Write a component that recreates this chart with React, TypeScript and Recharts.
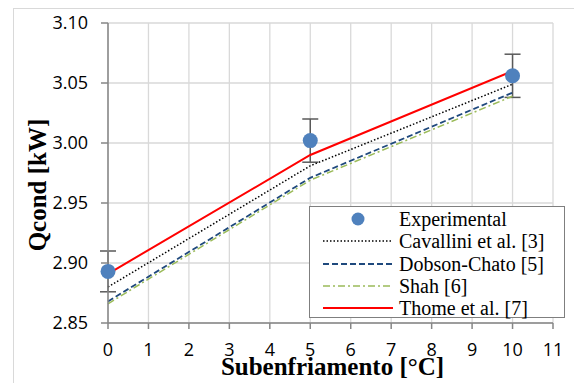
import React from 'react';
import { ComposedChart, Line, Scatter, ErrorBar, XAxis, YAxis, CartesianGrid, Legend } from 'recharts';

// Subcooling [°C]
const subcooling = [0, 5, 10];
// measured condenser capacity [kW] and its uncertainty
const experimental = [2.893, 3.002, 3.056];
const experimentalError = [0.017, 0.018, 0.018];
// correlation predictions [kW]
const cavallini = [2.880, 2.981, 3.049];
const dobsonChato = [2.868, 2.971, 3.042];
const shah = [2.866, 2.969, 3.039];
const thome = [2.891, 2.990, 3.060];

const xTicks = [0, 1, 2, 3, 4, 5, 6, 7, 8, 9, 10, 11];
const yTicks = [2.85, 2.9, 2.95, 3.0, 3.05, 3.1];

const data = subcooling.map((x, i) => ({
  x,
  exp: experimental[i],
  err: experimentalError[i],
  cavallini: cavallini[i],
  dobson: dobsonChato[i],
  shah: shah[i],
  thome: thome[i],
}));

const series = [
  { key: 'cavallini', name: 'Cavallini et al. [3]', color: '#000000', dash: '1.5 2', width: 1.5 },
  { key: 'dobson', name: 'Dobson-Chato [5]', color: '#1f497d', dash: '6 3', width: 1.8 },
  { key: 'shah', name: 'Shah [6]', color: '#9bbb59', dash: '7 3 2 3', width: 1.5 },
  { key: 'thome', name: 'Thome et al. [7]', color: '#ff0000', dash: undefined, width: 2 },
];

const sans = 'Open Sans';
const serif = 'Liberation Serif';

const XTick = (p: any) => (
  <text x={p.x} y={p.y} dy="0.71em" textAnchor="middle" fontFamily={sans} fontSize={18} fill="#000">
    {p.payload.value}
  </text>
);

const YTick = (p: any) => (
  <text x={p.x} y={p.y} dy="0.36em" textAnchor="end" fontFamily={sans} fontSize={18} fill="#000">
    {Number(p.payload.value).toFixed(2)}
  </text>
);

function LegendBox() {
  const text = { fontFamily: serif, fontSize: 20, color: '#000', lineHeight: '22px' };
  return (
    <div style={{
      background: '#fff',
      border: '1.5px solid #7f7f7f',
      width: 256,
      height: 112,
      boxSizing: 'border-box',
      paddingTop: 1,
    }}>
      <div style={{ display: 'flex', alignItems: 'center', height: 22.3 }}>
        <svg width={89} height={20}>
          <circle cx={48} cy={10} r={6.5} fill="#4f81bd" />
        </svg>
        <span style={text}>Experimental</span>
      </div>
      {series.map(s => (
        <div key={s.key} style={{ display: 'flex', alignItems: 'center', height: 22.3 }}>
          <svg width={89} height={20}>
            <line x1={13} y1={10} x2={83} y2={10} stroke={s.color} strokeWidth={s.width} strokeDasharray={s.dash} />
          </svg>
          <span style={text}>{s.name}</span>
        </div>
      ))}
    </div>
  );
}

export default function App() {
  return (
    <div style={{ position: 'absolute', left: 0, top: 0, width: 574, height: 383, background: '#fff', overflow: 'hidden' }}>
      {/* outer chart frame */}
      <div style={{
        position: 'absolute', left: 13, top: 8, width: 620, height: 420,
        borderLeft: '1.5px solid #d9d9d9', borderTop: '1.5px solid #d9d9d9',
      }} />
      <ComposedChart
        width={574}
        height={383}
        data={data}
        margin={{ top: 23, right: 21, left: 0, bottom: 0 }}
        style={{ position: 'absolute', left: 0, top: 0 }}
      >
        <CartesianGrid stroke="#d9d9d9" strokeWidth={1.3} />
        <XAxis
          dataKey="x"
          type="number"
          domain={[0, 11]}
          ticks={xTicks}
          interval={0}
          height={60}
          stroke="#868686"
          strokeWidth={1.5}
          tickSize={6}
          tickMargin={14}
          tick={XTick}
          label={{
            content: (props: any) => {
              const vb = props.viewBox;
              return (
                <text x={vb.x + vb.width / 2 + 2} y={375} textAnchor="middle"
                  fontFamily={serif} fontWeight="bold" fontSize={25} fill="#000">
                  Subenfriamento [°C]
                </text>
              );
            },
          }}
        />
        <YAxis
          type="number"
          domain={[2.85, 3.1]}
          ticks={yTicks}
          interval={0}
          width={108}
          stroke="#868686"
          strokeWidth={1.5}
          tickSize={7}
          tickMargin={13}
          tick={YTick}
          label={{
            content: (props: any) => {
              const vb = props.viewBox;
              const cy = vb.y + vb.height / 2 + 12;
              return (
                <text x={46} y={cy} textAnchor="middle" transform={`rotate(-90, 46, ${cy})`}
                  fontFamily={serif} fontWeight="bold" fontSize={25} fill="#000">
                  Qcond [kW]
                </text>
              );
            },
          }}
        />
        <Scatter name="Experimental" dataKey="exp" fill="#4f81bd" isAnimationActive={false}
          shape={(p: any) => <circle cx={p.cx} cy={p.cy} r={7.5} fill="#4f81bd" />}>
          <ErrorBar dataKey="err" direction="y" width={8} stroke="#595959" strokeWidth={1.5} />
        </Scatter>
        {series.map(s => (
          <Line
            key={s.key}
            type="linear"
            dataKey={s.key}
            name={s.name}
            stroke={s.color}
            strokeWidth={s.width}
            strokeDasharray={s.dash}
            dot={false}
            activeDot={false}
            isAnimationActive={false}
          />
        ))}
        <Legend
          layout="vertical"
          align="center"
          verticalAlign="middle"
          content={() => <LegendBox />}
          wrapperStyle={{ position: 'absolute', left: 309, top: 206, width: 256, height: 112, bottom: 'auto', right: 'auto', margin: 0 }}
        />
      </ComposedChart>
    </div>
  );
}
